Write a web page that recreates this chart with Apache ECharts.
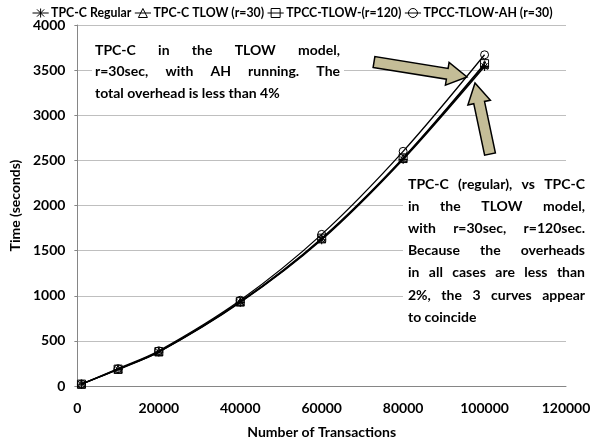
<!DOCTYPE html>
<html>
<head>
<meta charset="utf-8">
<script src="https://cdn.jsdelivr.net/npm/echarts@6/dist/echarts.min.js"></script>
<style>
  html, body { margin: 0; padding: 0; background: #fff; }
  #main { width: 600px; height: 444px; }
</style>
</head>
<body>
<div id="main"></div>
<script>
// x values (number of transactions)
const transactions = [1000, 10000, 20000, 40000, 60000, 80000, 100000];
// time in seconds
const tpccRegular = [20, 183, 375, 925, 1620, 2510, 3540];
const tpccTlow30 = [20, 185, 378, 930, 1630, 2520, 3560];
const tpccTlow120 = [21, 187, 381, 935, 1638, 2528, 3572];
const tpccTlowAh30 = [22, 192, 390, 950, 1680, 2600, 3670];

const seriesNames = ['TPC-C Regular', 'TPC-C TLOW (r=30)', 'TPCC-TLOW-(r=120)', 'TPCC-TLOW-AH (r=30)'];
const noteTop = ['TPC-C in the TLOW model,', 'r=30sec, with AH running. The', 'total overhead is less than 4%'];
const noteRight = [
  'TPC-C (regular), vs TPC-C',
  'in the TLOW model,',
  'with r=30sec, r=120sec.',
  'Because the overheads',
  'in all cases are less than',
  '2%, the 3 curves appear',
  'to coincide'
];

const FONT = 'Lato, "Open Sans", sans-serif';
const asterisk = 'path://M0,5L10,5M5,0L5,10M1.5,1.5L8.5,8.5M8.5,1.5L1.5,8.5';
const symbols = [asterisk, 'triangle', 'rect', 'circle'];
// legend icons: short line with the marker on it (18 x 10 box)
const legendIcons = [
  'path://M0,5L18,5M9,0L9,10M5,1L13,9M13,1L5,9',
  'path://M0,5L18,5M9,0L14,10L4,10Z',
  'path://M0,5L18,5M4,0L14,0L14,10L4,10Z',
  'path://M0,5L18,5M14,5A5,5,0,1,1,4,5A5,5,0,1,1,14,5Z'
];
const hollow = { color: 'rgba(255,255,255,0)', borderColor: '#000', borderWidth: 1 };

function pairs(ys) {
  return transactions.map((x, i) => [x, ys[i]]);
}

function makeSeries(name, ys, symbol, size) {
  return {
    name: name,
    type: 'line',
    smooth: 0.3,
    data: pairs(ys),
    symbol: symbol,
    symbolSize: size,
    lineStyle: { color: '#000', width: 1.3 },
    itemStyle: hollow,
    emphasis: { disabled: true }
  };
}

// justified text, one word per element (like the Word text boxes)
const measureCtx = document.createElement('canvas').getContext('2d');
function textBlock(lines, x0, width, y0, lineH, fontSize) {
  const font = 'bold ' + fontSize + 'px ' + FONT;
  measureCtx.font = font;
  const out = [];
  lines.forEach((line, li) => {
    const y = y0 + li * lineH;
    const words = line.split(' ');
    const last = li === lines.length - 1;
    if (last || words.length === 1) {
      out.push({ type: 'text', style: { x: x0, y: y, text: line, font: font, fill: '#000', verticalAlign: 'middle' }, z: 20 });
      return;
    }
    const wordW = words.map(w => measureCtx.measureText(w).width);
    const total = wordW.reduce((a, b) => a + b, 0);
    const gap = (width - total) / (words.length - 1);
    let x = x0;
    words.forEach((w, i) => {
      out.push({ type: 'text', style: { x: x, y: y, text: w, font: font, fill: '#000', verticalAlign: 'middle' }, z: 20 });
      x += wordW[i] + gap;
    });
  });
  return out;
}

// block arrow polygon from tail centre to tip
function blockArrow(x0, y0, x1, y1, shaftW, headW, headL) {
  const dx = x1 - x0, dy = y1 - y0;
  const len = Math.sqrt(dx * dx + dy * dy);
  const ux = dx / len, uy = dy / len;
  const px = -uy, py = ux;
  const bx = x1 - ux * headL, by = y1 - uy * headL;
  const pts = [
    [x0 + px * shaftW / 2, y0 + py * shaftW / 2],
    [bx + px * shaftW / 2, by + py * shaftW / 2],
    [bx + px * headW / 2, by + py * headW / 2],
    [x1, y1],
    [bx - px * headW / 2, by - py * headW / 2],
    [bx - px * shaftW / 2, by - py * shaftW / 2],
    [x0 - px * shaftW / 2, y0 - py * shaftW / 2]
  ];
  return {
    type: 'polygon',
    shape: { points: pts },
    style: { fill: '#C4BD97', stroke: '#000', lineWidth: 1.5 },
    z: 30
  };
}

const chart = echarts.init(document.getElementById('main'), null, { renderer: 'canvas' });

const option = {
  animation: false,
  backgroundColor: '#fff',
  textStyle: { fontFamily: FONT },
  legend: {
    top: 2,
    left: 27,
    itemWidth: 17,
    itemHeight: 9,
    itemGap: 3,
    data: seriesNames.map((n, i) => ({ name: n, icon: legendIcons[i], itemStyle: hollow })),
    itemStyle: hollow,
    textStyle: { fontFamily: FONT, fontWeight: 'bold', fontSize: 12.3, color: '#000', padding: [0, 0, 0, -3] }
  },
  grid: { left: 76, right: 34, top: 25, bottom: 53, containLabel: false },
  xAxis: {
    type: 'value',
    min: 0,
    max: 120000,
    interval: 20000,
    name: 'Number of Transactions',
    nameLocation: 'middle',
    nameGap: 39,
    nameTextStyle: { fontFamily: FONT, fontWeight: 'bold', fontSize: 14, color: '#000' },
    axisLine: { show: true, lineStyle: { color: '#868686' } },
    axisTick: { show: false },
    splitLine: { show: false },
    axisLabel: { fontFamily: FONT, fontWeight: 'bold', fontSize: 14, color: '#000', margin: 15, formatter: v => String(v) }
  },
  yAxis: {
    type: 'value',
    min: 0,
    max: 4000,
    interval: 500,
    name: 'Time (seconds)',
    nameLocation: 'middle',
    nameGap: 50,
    nameTextStyle: { fontFamily: FONT, fontWeight: 'bold', fontSize: 14, color: '#000' },
    axisLine: { show: true, lineStyle: { color: '#868686' } },
    axisTick: { show: true, length: 3, lineStyle: { color: '#868686' } },
    splitLine: { show: true, lineStyle: { color: '#bfbfbf' } },
    axisLabel: { fontFamily: FONT, fontWeight: 'bold', fontSize: 14, color: '#000', margin: 12, formatter: v => String(v) }
  },
  series: [
    makeSeries(seriesNames[0], tpccRegular, symbols[0], 9),
    makeSeries(seriesNames[1], tpccTlow30, symbols[1], 8),
    makeSeries(seriesNames[2], tpccTlow120, symbols[2], 8),
    makeSeries(seriesNames[3], tpccTlowAh30, symbols[3], 8)
  ],
  graphic: [
    { type: 'rect', shape: { x: 92, y: 38, width: 252, height: 66 }, style: { fill: '#fff' }, z: 10 },
    { type: 'rect', shape: { x: 403, y: 172, width: 190, height: 158 }, style: { fill: '#fff' }, z: 10 }
  ]
    .concat(textBlock(noteTop, 95, 245, 50, 21.5, 14))
    .concat(textBlock(noteRight, 408, 177, 184, 22.2, 14))
    .concat([
      blockArrow(374, 62, 467, 77, 11, 23, 20),
      blockArrow(490, 154, 475, 83, 11, 23, 20)
    ])
};

chart.setOption(option);
</script>
</body>
</html>
